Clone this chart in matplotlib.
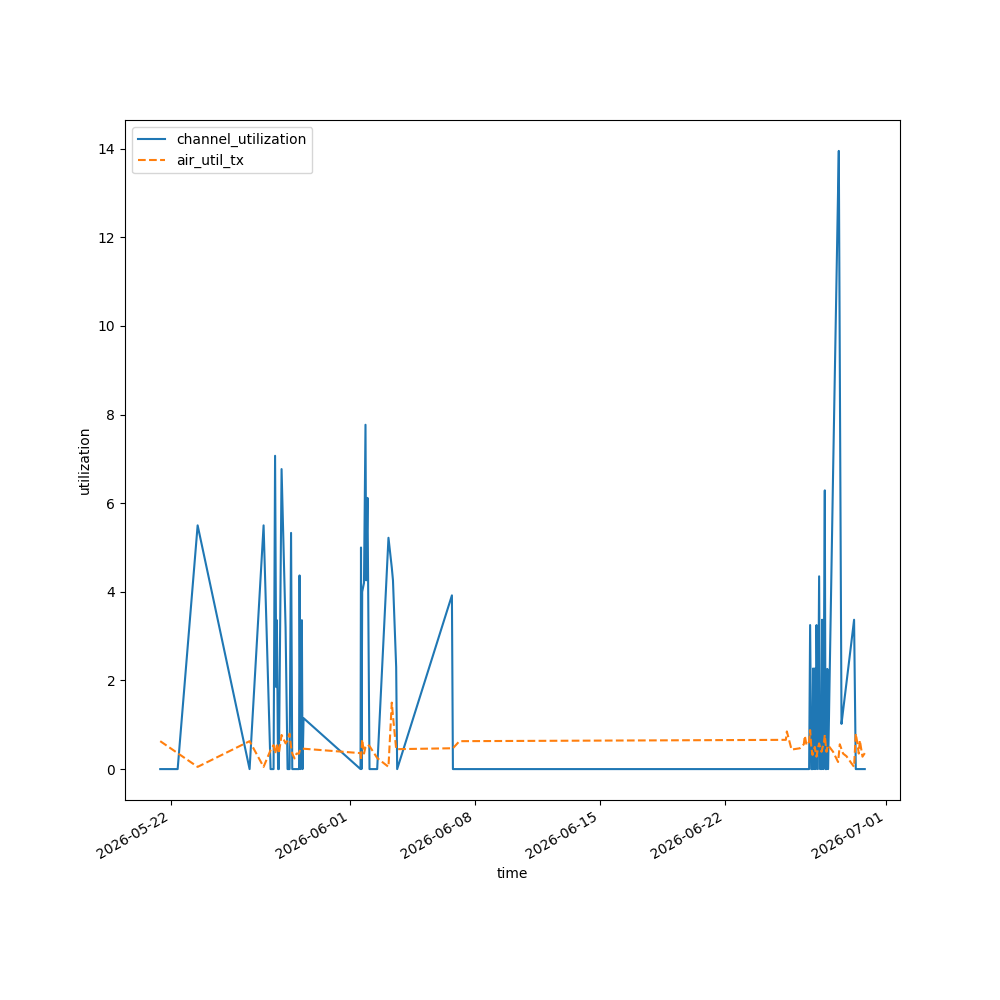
import matplotlib
matplotlib.use("Agg")
import matplotlib.pyplot as plt
import pandas as pd

# readings taken from the chart (same timestamps for both series)
times = [
    "2026-05-21 10:00", "2026-05-22 09:23", "2026-05-23 12:12", "2026-05-26 09:55",
    "2026-05-27 04:42", "2026-05-27 14:05", "2026-05-27 18:06", "2026-05-27 20:07",
    "2026-05-27 21:43", "2026-05-27 22:32", "2026-05-28 00:08", "2026-05-28 01:12",
    "2026-05-28 04:50", "2026-05-28 10:12", "2026-05-28 12:52", "2026-05-28 15:33",
    "2026-05-28 17:34", "2026-05-28 19:10", "2026-05-28 22:15", "2026-05-29 00:56",
    "2026-05-29 04:17", "2026-05-29 04:58", "2026-05-29 06:18", "2026-05-29 08:03",
    "2026-05-29 08:59", "2026-05-29 10:19",
    "2026-06-01 14:46", "2026-06-01 15:25", "2026-06-01 16:05", "2026-06-01 17:01",
    "2026-06-01 19:26", "2026-06-01 21:27", "2026-06-01 22:23", "2026-06-02 00:08",
    "2026-06-02 02:49", "2026-06-02 13:08", "2026-06-03 04:17", "2026-06-03 08:43",
    "2026-06-03 10:19", "2026-06-03 14:37", "2026-06-03 15:57", "2026-06-06 17:25",
    "2026-06-06 18:46", "2026-06-07 03:29",
    "2026-06-25 09:32", "2026-06-25 10:52", "2026-06-25 17:10", "2026-06-26 04:18",
    "2026-06-26 09:39", "2026-06-26 10:59", "2026-06-26 13:16", "2026-06-26 15:25",
    "2026-06-26 16:45", "2026-06-26 18:06", "2026-06-26 19:42", "2026-06-26 21:19",
    "2026-06-26 22:07", "2026-06-26 23:28", "2026-06-27 00:24", "2026-06-27 01:45",
    "2026-06-27 02:41", "2026-06-27 04:25", "2026-06-27 06:10", "2026-06-27 07:30",
    "2026-06-27 08:27", "2026-06-27 09:23", "2026-06-27 10:12", "2026-06-27 11:48",
    "2026-06-27 12:29", "2026-06-27 13:48", "2026-06-27 14:45", "2026-06-27 16:05",
    "2026-06-27 17:10", "2026-06-27 18:14", "2026-06-28 00:56", "2026-06-28 07:38",
    "2026-06-28 08:35", "2026-06-28 09:55", "2026-06-28 12:12", "2026-06-28 14:21",
    "2026-06-28 18:54", "2026-06-29 01:36", "2026-06-29 05:05", "2026-06-29 07:22",
    "2026-06-29 09:07", "2026-06-29 11:24", "2026-06-29 12:45", "2026-06-29 16:22",
    "2026-06-29 19:26",
]

channel_utilization = [
    0, 0, 5.5, 0,
    5.5, 0, 0, 7.07,
    1.85, 3.36, 0, 0,
    6.77, 3.2, 0, 0,
    5.33, 0, 0, 0,
    0, 4.37, 0, 3.36,
    0, 1.15,
    0, 5.0, 0, 4.0,
    4.2, 7.77, 4.26, 6.12,
    0, 0, 5.22, 4.55,
    4.26, 2.3, 0, 3.92,
    0, 0,
    0, 0, 0, 0,
    0, 0, 0, 0,
    0, 3.25, 0, 0,
    2.27, 0, 2.27, 0,
    3.25, 0, 4.35, 0,
    1.0, 0, 3.37, 0,
    2.2, 6.29, 0, 0,
    2.26, 0, 6.7, 13.1,
    13.95, 9.2, 1.02, 1.32,
    1.95, 2.88, 3.37, 0,
    0, 0, 0, 0,
    0,
]

air_util_tx = [
    0.63, 0.36, 0.05, 0.63,
    0.05, 0.43, 0.54, 0.35,
    0.45, 0.58, 0.45, 0.35,
    0.77, 0.58, 0.65, 0.80,
    0.50, 0.35, 0.24, 0.35,
    0.35, 0.40, 0.45, 0.46,
    0.46, 0.46,
    0.36, 0.20, 0.40, 0.67,
    0.35, 0.50, 0.52, 0.55,
    0.52, 0.25, 0.05, 1.50,
    1.20, 0.45, 0.45, 0.47,
    0.47, 0.63,
    0.66, 0.85, 0.44, 0.47,
    0.56, 0.75, 0.54, 0.58,
    0.62, 0.88, 0.50, 0.32,
    0.40, 0.45, 0.50, 0.35,
    0.28, 0.45, 0.58, 0.50,
    0.45, 0.39, 0.45, 0.55,
    0.58, 0.77, 0.60, 0.39,
    0.50, 0.54, 0.39, 0.16,
    0.32, 0.56, 0.45, 0.35,
    0.29, 0.13, 0.05, 0.80,
    0.62, 0.35, 0.65, 0.28,
    0.36,
]

t = pd.to_datetime(times)

fig, ax = plt.subplots(figsize=(10, 10), dpi=100)
ax.plot(t, channel_utilization, label='channel_utilization')
ax.plot(t, air_util_tx, '--', label='air_util_tx')
ax.set_xlabel('time')
ax.set_ylabel('utilization')
ax.legend(loc='upper left')
fig.autofmt_xdate()
fig.savefig('out.png')
